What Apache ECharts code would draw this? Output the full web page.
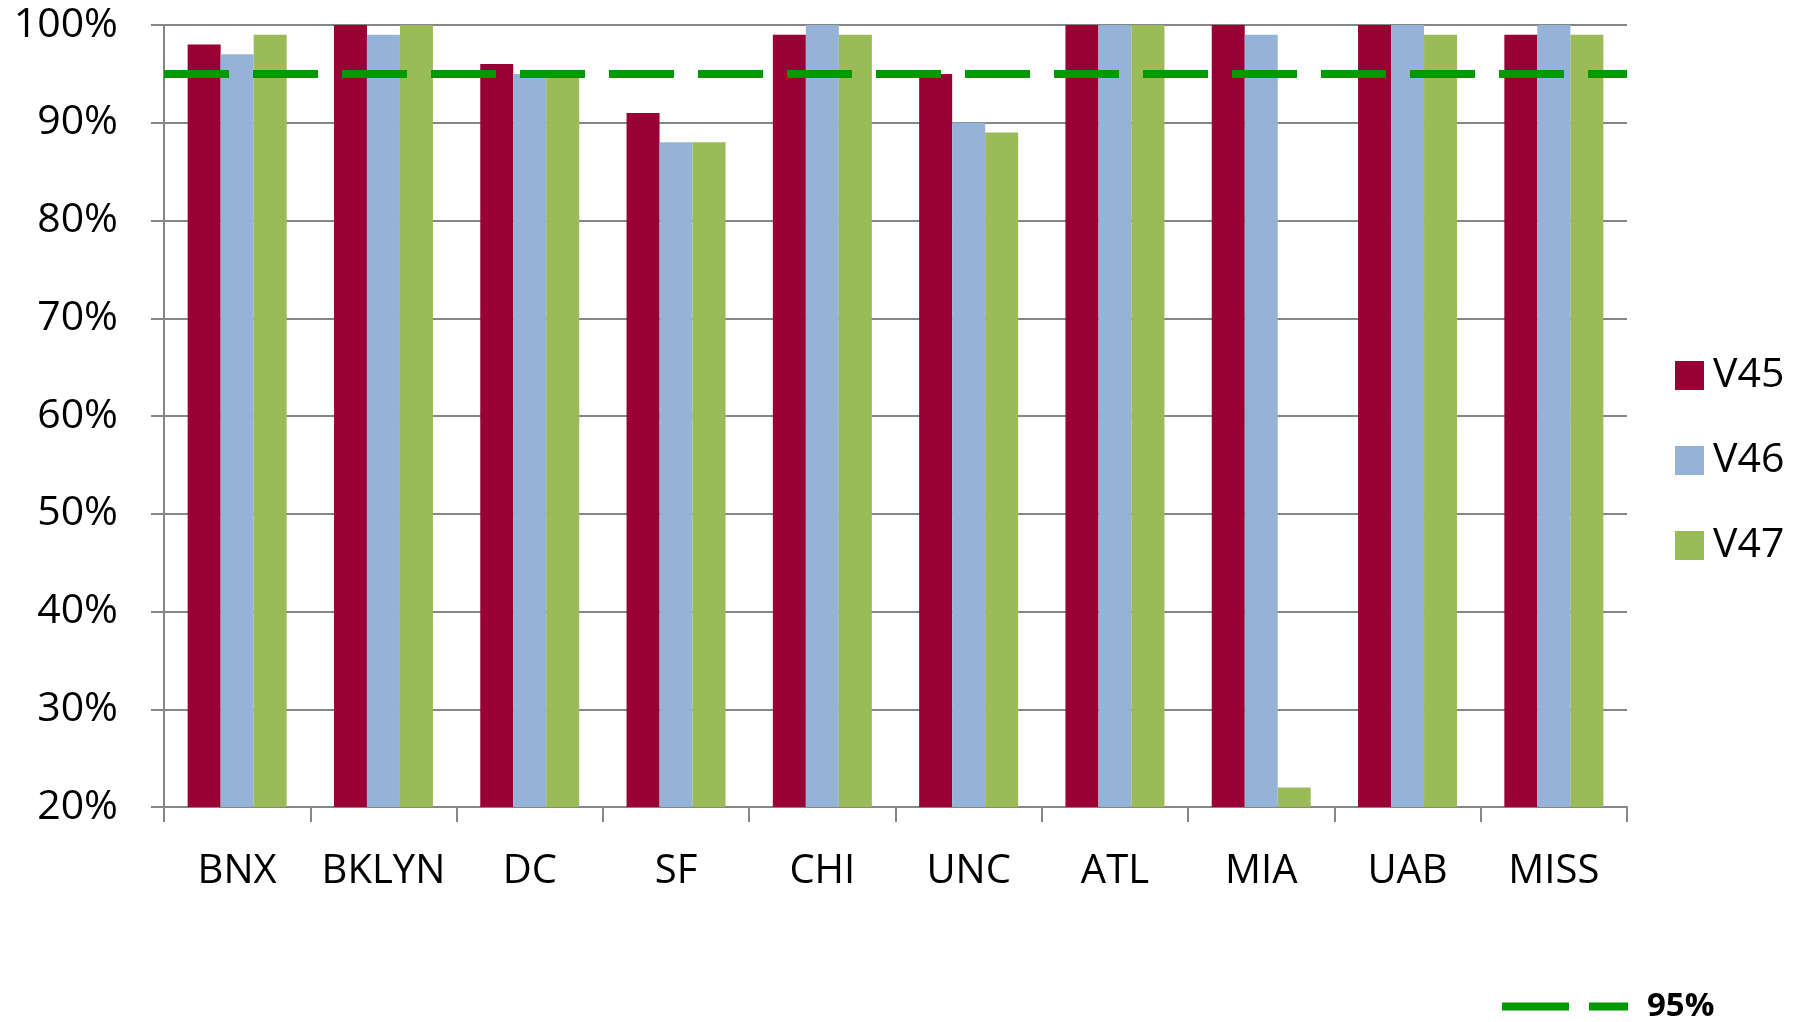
<!DOCTYPE html>
<html>
<head>
<meta charset="utf-8">
<script src="https://cdn.jsdelivr.net/npm/echarts@6/dist/echarts.min.js"></script>
<style>
  html, body { margin: 0; padding: 0; background: #fff; }
  #chart { width: 1808px; height: 1022px; }
</style>
</head>
<body>
<div id="chart"></div>
<script>
const sites = ['BNX', 'BKLYN', 'DC', 'SF', 'CHI', 'UNC', 'ATL', 'MIA', 'UAB', 'MISS']
const v45 = [98, 100, 96, 91, 99, 95, 100, 100, 100, 99]
const v46 = [97, 99, 95, 88, 100, 90, 100, 99, 100, 100]
const v47 = [99, 100, 95, 88, 99, 89, 100, 22, 99, 99]
const target = 95

const font = '"Open Sans", "Noto Sans", sans-serif'
const axisGray = '#868686'

const chart = echarts.init(document.getElementById('chart'))

function barSeries(name, data, color) {
  return {
    name: name,
    type: 'bar',
    data: data,
    barWidth: 33,
    barGap: '0%',
    itemStyle: { color: color },
  }
}

chart.setOption({
  animation: false,
  textStyle: { fontFamily: font },
  grid: { left: 164, right: 181, top: 25, bottom: 215 },
  legend: [
    {
      data: ['V45', 'V46', 'V47'],
      orient: 'vertical',
      left: 1670,
      top: 350,
      itemWidth: 29,
      itemHeight: 29,
      itemGap: 44,
      icon: 'rect',
      textStyle: { fontSize: 41, color: '#000', fontFamily: font, padding: [0, 0, 0, 4] },
    },
    {
      data: ['95%'],
      left: 1497,
      top: 985,
      itemWidth: 126,
      itemHeight: 8,
      itemGap: 10,
      icon: 'path://M0,0H67V8H0Z M87,0H126V8H87Z',
      textStyle: { fontSize: 33, fontWeight: 'bold', color: '#000', fontFamily: font, padding: [8, 0, 0, 14] },
    },
  ],
  xAxis: {
    type: 'category',
    data: sites,
    axisLine: { lineStyle: { color: axisGray, width: 2 } },
    axisTick: { show: true, length: 15, interval: 0, lineStyle: { color: axisGray, width: 2 } },
    axisLabel: { interval: 0, fontSize: 40, color: '#000', margin: 45, fontFamily: font },
  },
  yAxis: {
    type: 'value',
    min: 20,
    max: 100,
    interval: 10,
    axisLine: { show: true, lineStyle: { color: axisGray, width: 2 } },
    axisTick: { show: true, length: 13, lineStyle: { color: axisGray, width: 2 } },
    splitLine: { lineStyle: { color: axisGray, width: 2 } },
    axisLabel: {
      formatter: '{value}%',
      fontSize: 41,
      color: '#000',
      margin: 46,
      fontFamily: font,
    },
  },
  series: [
    barSeries('V45', v45, '#990033'),
    barSeries('V46', v46, '#95b3d7'),
    barSeries('V47', v47, '#9bbb59'),
    {
      name: '95%',
      type: 'line',
      data: [],
      itemStyle: { color: '#009900' },
      lineStyle: { color: '#009900' },
      markLine: {
        silent: true,
        symbol: 'none',
        label: { show: false },
        lineStyle: { color: '#009900', width: 8, type: [65, 24] },
        data: [{ yAxis: target }],
      },
    },
  ],
})
</script>
</body>
</html>
